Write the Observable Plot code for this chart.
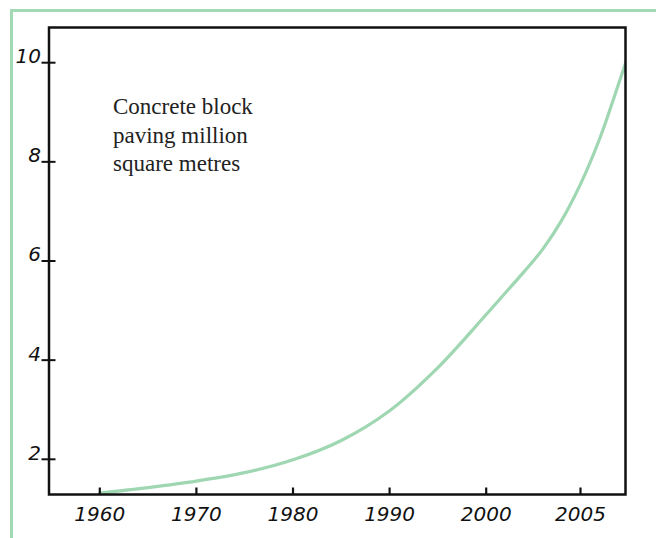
<!DOCTYPE html>
<html>
<head>
<meta charset="utf-8">
<script src="https://cdn.jsdelivr.net/npm/d3@7"></script>
<script src="https://cdn.jsdelivr.net/npm/@observablehq/plot@0.6"></script>
<style>
  html, body { margin: 0; padding: 0; background: #fff; }
  #wrap { position: relative; width: 656px; height: 538px; overflow: hidden; }
  #wrap svg { position: absolute; left: 0; top: 0; overflow: visible; }
  #border { position: absolute; left: 10px; top: 9px; width: 700px; height: 600px;
            border-top: 3px solid #a3d9b5; border-left: 3px solid #a3d9b5; pointer-events: none; }
</style>
</head>
<body>
<div id="wrap"><div id="border"></div></div>
<script>
// Data (million square metres of concrete block paving)
const years  = [1960, 1965, 1970, 1975, 1980, 1985, 1990, 1995, 2000, 2001, 2002, 2003, 2004, 2005, 2006, 2007, 2008];
const values = [1.32, 1.43, 1.56, 1.73, 1.99, 2.38, 2.98, 3.85, 4.92, 5.35, 5.78, 6.24, 6.82, 7.55, 8.45, 9.55, 10.70];

const xTicks = [1960, 1970, 1980, 1990, 2000, 2005];
const yTicks = [2, 4, 6, 8, 10];
const label = "Concrete block\npaving million\nsquare metres";

const data = years.map((year, i) => ({year, value: values[i]}));

const green = "#9fd7b2";
const tickFont = "DejaVu Sans";
const W = 656, H = 538, mT = 27, mB = 44, tickLen = 7;
const yMin = 1.29, yMax = 10.71;
const tickUnits = tickLen * (yMax - yMin) / (H - mT - mB);

const chart = Plot.plot({
  width: W,
  height: H,
  marginLeft: 48.5,
  marginTop: mT,
  marginRight: 31,
  marginBottom: mB,
  style: {fontFamily: tickFont, fontSize: "20px", fontStyle: "italic", color: "#111", background: "transparent"},
  x: {type: "linear", domain: [1960, 2000, 2005], range: [99.3, 485.7, 580]},
  y: {type: "linear", domain: [yMin, yMax]},
  marks: [
    Plot.line(data, {x: "year", y: "value", stroke: green, strokeWidth: 3.2, curve: "catmull-rom", clip: true}),
    Plot.frame({stroke: "#111", strokeWidth: 2.5}),
    // y ticks crossing the axis
    Plot.axisY({ticks: yTicks, tickSize: 14, dx: 7, strokeWidth: 2, stroke: "#111", tickFormat: () => "", label: null}),
    Plot.axisY({ticks: yTicks, tickSize: 0, tickPadding: 8, dy: -6, label: null, fill: "#111"}),
    // x ticks pointing inward from the bottom edge
    Plot.link(xTicks, {x1: d => d, x2: d => d, y1: yMin, y2: yMin + tickUnits, stroke: "#111", strokeWidth: 2.2}),
    Plot.axisX({ticks: xTicks, tickSize: 0, tickPadding: 12, tickFormat: d => String(d), label: null, fill: "#111"}),
    Plot.text([label], {
      text: d => d, frameAnchor: "top-left", dx: 64, dy: 66,
      textAnchor: "start", lineAnchor: "top", lineHeight: 1.25,
      fontFamily: "Liberation Serif", fontSize: 23, fontStyle: "normal", fill: "#222"
    })
  ]
});

document.getElementById("wrap").appendChild(chart);
</script>
</body>
</html>
